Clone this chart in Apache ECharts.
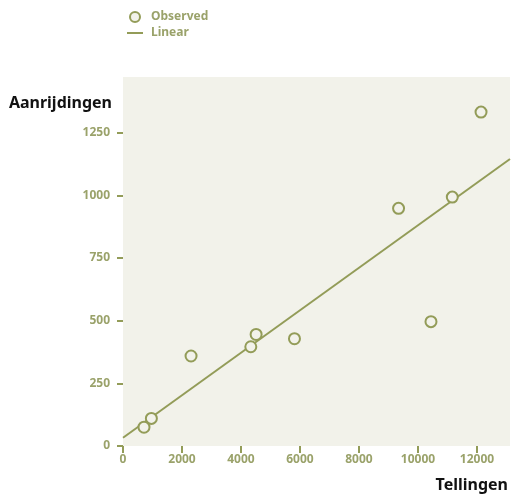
<!DOCTYPE html>
<html><head><meta charset="utf-8">
<script src="https://cdn.jsdelivr.net/npm/echarts@6/dist/echarts.min.js"></script>
<style>html,body{margin:0;padding:0;background:#fff}#c{width:512px;height:496px}</style>
</head><body><div id="c"></div>
<script>
var obsX = [712, 962, 2307, 4333, 4513, 5813, 9342, 10441, 11164, 12138];
var obsY = [75, 110, 359, 396, 445, 428, 948, 496, 993, 1332];
var linX = [0, 13120];
var linY = [33, 1145];
var xTicks = [0, 2000, 4000, 6000, 8000, 10000, 12000];
var yTicks = [0, 250, 500, 750, 1000, 1250];

var olive = '#939c58';
var labelCol = '#9aa26a';
var FONT = 'Noto Sans';

var chart = echarts.init(document.getElementById('c'));
chart.setOption({
  animation: false,
  textStyle: {fontFamily: FONT},
  legend: {
    orient: 'vertical', left: 122, top: 6, itemWidth: 16, itemHeight: 10, itemGap: 4,
    textStyle: {color: labelCol, fontWeight: 'bold', fontSize: 12, fontFamily: FONT, padding: [0,0,0,3]},
    data: [{name: 'Observed', icon: 'circle', itemStyle: {color: '#f2f2ea', borderColor: olive, borderWidth: 2}},
           {name: 'Linear', icon: 'path://M0,0 L16,0 L16,2 L0,2 Z', itemStyle: {color: olive}}]
  },
  grid: {left: 123, right: 2, top: 77, bottom: 50, show: true, backgroundColor: '#f2f2ea', borderWidth: 0},
  xAxis: {
    type: 'value', min: 0, max: 13120, interval: 2000,
    name: 'Tellingen', nameLocation: 'end', nameGap: 0,
    nameTextStyle: {color: '#111', fontWeight: 'bold', fontSize: 16, fontFamily: FONT, align: 'right', verticalAlign: 'top', padding: [31, 2, 0, 0]},
    axisLine: {show: false},
    axisTick: {show: true, length: 7, lineStyle: {color: olive, width: 2}},
    axisLabel: {color: labelCol, fontWeight: 'bold', fontSize: 12, margin: 8, showMaxLabel: false,
      formatter: function(v){ return xTicks.indexOf(v) >= 0 ? String(v) : ''; }},
    splitLine: {show: false}
  },
  yAxis: {
    type: 'value', min: 0, max: 1472, interval: 250,
    name: 'Aanrijdingen', nameLocation: 'end', nameGap: -26,
    nameTextStyle: {color: '#111', fontWeight: 'bold', fontSize: 16, fontFamily: FONT, align: 'right', verticalAlign: 'middle', padding: [0, 11, 0, 0]},
    axisLine: {show: false},
    axisTick: {show: true, length: 6, lineStyle: {color: olive, width: 2}},
    axisLabel: {color: labelCol, fontWeight: 'bold', fontSize: 12, margin: 13, showMaxLabel: false,
      formatter: function(v){ return yTicks.indexOf(v) >= 0 ? String(v) : ''; }},
    splitLine: {show: false}
  },
  series: [
    {name: 'Linear', type: 'line', data: linX.map(function(x,i){return [x, linY[i]];}),
     showSymbol: false, symbol: 'none', lineStyle: {color: olive, width: 2}, itemStyle: {color: olive}, z: 2},
    {name: 'Observed', type: 'scatter', data: obsX.map(function(x,i){return [x, obsY[i]];}),
     symbol: 'circle', symbolSize: 11,
     itemStyle: {color: '#f2f2ea', borderColor: olive, borderWidth: 2, opacity: 1}, z: 3}
  ]
});
</script></body></html>
